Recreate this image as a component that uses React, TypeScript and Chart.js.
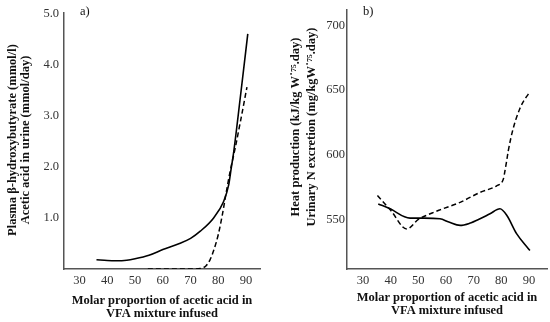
import React, { useEffect, useRef } from "react";
import { Chart, registerables } from "chart.js";

Chart.register(...registerables);

// ---------- data ----------
const xTicks = [30, 40, 50, 60, 70, 80, 90];

const leftYTicks = [1, 2, 3, 4, 5];
const rightYTicks = [550, 600, 650, 700];

// panel a) solid: plasma beta-hydroxybutyrate
const aSolidX = [36.1, 40, 43, 47, 50, 55, 60, 66, 70, 73.5, 78.3, 81.9, 83.7, 84.6, 85.5, 88, 90.6];
const aSolidY = [0.18, 0.165, 0.16, 0.17, 0.2, 0.27, 0.38, 0.5, 0.6, 0.74, 1.0, 1.32, 1.64, 1.96, 2.28, 3.4, 4.6];

// panel a) dashed: acetic acid in urine
const aDashX = [54.6, 60, 70, 73.5, 75.5, 77, 78.3, 80, 81.5, 83, 84.5, 86, 88, 90.3];
const aDashY = [0, 0, 0, 0.01, 0.06, 0.18, 0.36, 0.68, 1.08, 1.55, 1.98, 2.35, 2.9, 3.56];

// panel b) solid: heat production
const bSolidX = [35.5, 40, 45, 47, 52, 57.8, 61, 65.1, 68.5, 72.3, 75.9, 79.5, 82, 85.5, 89.7, 90.3];
const bSolidY = [562, 558, 552, 551, 551, 550.5, 548, 545.4, 547, 550.5, 554.4, 558.2, 553, 539, 527.6, 526];

// panel b) dashed: urinary N excretion
const bDashX = [35.2, 40, 45.8, 50, 55, 57.8, 65.1, 72.3, 78.3, 80.7, 81.3, 81.9, 82.5, 84.2, 86.7, 88.5, 90.2];
const bDashY = [568.4, 557, 542.6, 550, 555, 557.4, 563.2, 570.9, 576, 581, 587.5, 595, 603, 619.6, 635.7, 643, 648];

const leftYTitle = ["Plasma β-hydroxybutyrate (mmol/l)", "Acetic acid in urine (mmol/day)"];
const rightYTitle = ["Heat production (kJ/kg W˙⁷⁵.day)", "Urinary N excretion (mg/kgW˙⁷⁵.day)"];
const xTitle = ["Molar proportion of acetic acid in", "VFA mixture infused"];

const SERIF = "'Liberation Serif', 'DejaVu Serif', serif";

function pts(xs: number[], ys: number[]) {
  return xs.map((x, i) => ({ x, y: ys[i] }));
}

type PanelCfg = {
  panel: string;
  panelX: number;
  solid: { x: number; y: number }[];
  dashed: { x: number; y: number }[];
  xMin: number;
  xMax: number;
  yMin: number;
  yMax: number;
  yTicks: number[];
  yFmt: (v: number) => string;
  yWidth: number;
  yTickPad: number;
  rightPad: number;
  yTitle: string[];
  yTitleX: number[];
  yTitleY: number;
  xTitlePadBottom: number;
};

function makeConfig(p: PanelCfg): any {
  const sideTitle = {
    id: "sideTitle",
    afterDraw(chart: any) {
      const ctx = chart.ctx;
      ctx.save();
      ctx.fillStyle = "#111";
      ctx.font = `bold 12.5px ${SERIF}`;
      ctx.textAlign = "center";
      ctx.textBaseline = "middle";
      p.yTitle.forEach((t, i) => {
        ctx.save();
        ctx.translate(p.yTitleX[i], p.yTitleY);
        ctx.rotate(-Math.PI / 2);
        ctx.fillText(t, 0, 0);
        ctx.restore();
      });
      ctx.font = `12.5px ${SERIF}`;
      ctx.textAlign = "left";
      ctx.fillText(p.panel, p.panelX, 12);
      ctx.restore();
    },
  };
  return {
    type: "line",
    data: {
      datasets: [
        {
          data: p.solid,
          borderColor: "#000",
          borderWidth: 1.6,
          pointRadius: 0,
          fill: false,
          cubicInterpolationMode: "monotone",
        },
        {
          data: p.dashed,
          borderColor: "#000",
          borderWidth: 1.5,
          borderDash: [5, 3],
          pointRadius: 0,
          fill: false,
          cubicInterpolationMode: "monotone",
        },
      ],
    },
    options: {
      animation: false,
      responsive: false,
      devicePixelRatio: 1,
      layout: { padding: { left: 0, top: 7, right: p.rightPad, bottom: 0 } },
      plugins: { legend: { display: false }, tooltip: { enabled: false } },
      scales: {
        x: {
          type: "linear",
          min: p.xMin,
          max: p.xMax,
          afterBuildTicks: (s: any) => {
            s.ticks = xTicks.map((v) => ({ value: v }));
          },
          afterFit: (s: any) => {
            s.height = 53;
          },
          grid: { display: false, drawTicks: false },
          border: { display: true, color: "#555", width: 1.5 },
          ticks: {
            color: "#333",
            font: { family: SERIF, size: 12.5 },
            padding: 4,
            maxRotation: 0,
            autoSkip: false,
            callback: (v: any) => String(v),
          },
          title: {
            display: true,
            text: xTitle,
            color: "#111",
            font: { family: SERIF, size: 12.5, weight: "bold", lineHeight: 1.0 },
            padding: { top: 0, bottom: p.xTitlePadBottom },
          },
        },
        y: {
          type: "linear",
          min: p.yMin,
          max: p.yMax,
          afterBuildTicks: (s: any) => {
            s.ticks = p.yTicks.map((v) => ({ value: v }));
          },
          afterFit: (s: any) => {
            s.width = p.yWidth;
          },
          grid: { display: false, drawTicks: false },
          border: { display: true, color: "#555", width: 1.5 },
          ticks: {
            color: "#333",
            font: { family: SERIF, size: 12.5 },
            padding: p.yTickPad,
            autoSkip: false,
            callback: (v: any) => p.yFmt(Number(v)),
          },
        },
      },
    },
    plugins: [sideTitle],
  };
}

function Panel({ cfg, left }: { cfg: PanelCfg; left: number }) {
  const ref = useRef<HTMLCanvasElement | null>(null);
  useEffect(() => {
    if (!ref.current) return;
    const chart = new Chart(ref.current, makeConfig(cfg));
    return () => chart.destroy();
  }, []);
  return (
    <div style={{ position: "absolute", left, top: 0, width: 275, height: 322 }}>
      <canvas ref={ref} width={275} height={322} style={{ width: 275, height: 322, display: "block" }} />
    </div>
  );
}

const leftCfg: PanelCfg = {
  panel: "a)",
  panelX: 80,
  solid: pts(aSolidX, aSolidY),
  dashed: pts(aDashX, aDashY),
  xMin: 24.4,
  xMax: 95.0,
  yMin: 0,
  yMax: 5.02,
  yTicks: leftYTicks,
  yFmt: (v) => v.toFixed(1),
  yWidth: 64,
  yTickPad: 5,
  rightPad: 15,
  yTitle: leftYTitle,
  yTitleX: [13, 26],
  yTitleY: 140,
  xTitlePadBottom: 2,
};

const rightCfg: PanelCfg = {
  panel: "b)",
  panelX: 88,
  solid: pts(bSolidX, bSolidY),
  dashed: pts(bDashX, bDashY),
  xMin: 24.2,
  xMax: 96.5,
  yMin: 511.7,
  yMax: 712.2,
  yTicks: rightYTicks,
  yFmt: (v) => String(v),
  yWidth: 72,
  yTickPad: 2,
  rightPad: 3,
  yTitle: rightYTitle,
  yTitleX: [21, 37],
  yTitleY: 127,
  xTitlePadBottom: 5,
};

export default function App() {
  return (
    <div style={{ position: "absolute", left: 0, top: 0, width: 550, height: 322, background: "#fff" }}>
      <Panel cfg={leftCfg} left={0} />
      <Panel cfg={rightCfg} left={275} />
    </div>
  );
}
